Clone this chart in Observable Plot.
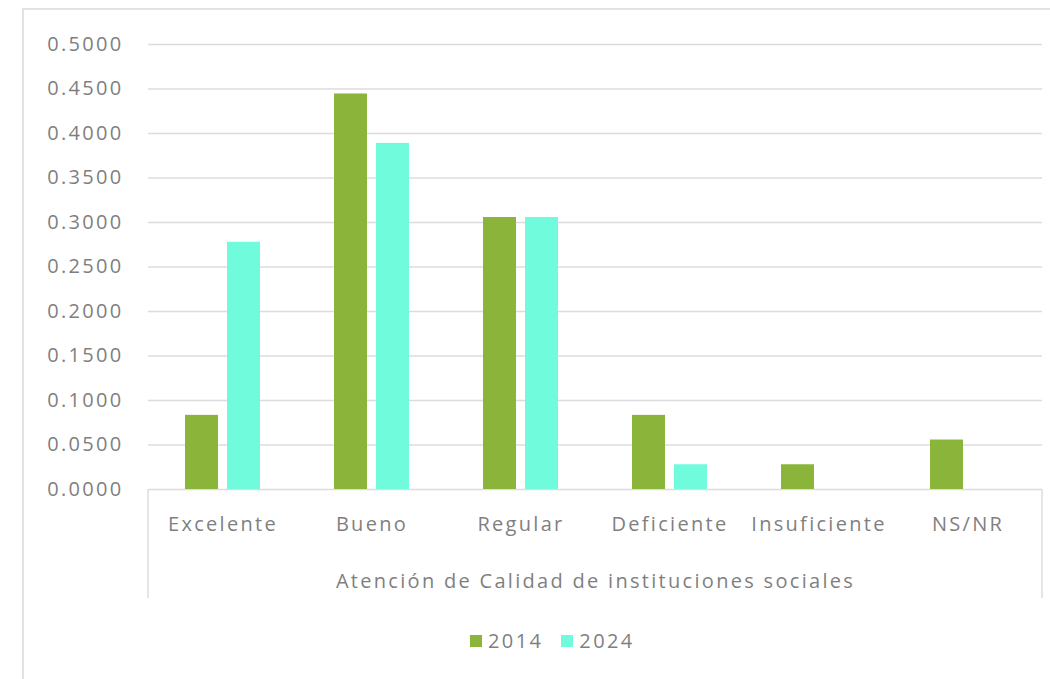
<!DOCTYPE html>
<html>
<head>
<meta charset="utf-8">
<script src="https://cdn.jsdelivr.net/npm/d3@7"></script>
<script src="https://cdn.jsdelivr.net/npm/@observablehq/plot@0.6"></script>
<style>
  html, body { margin: 0; padding: 0; background: #ffffff; }
  #frame { position: absolute; left: 22px; top: 8px; width: 1040px; height: 690px;
           border-top: 2px solid #e2e2e2; border-left: 2px solid #e2e2e2; }
  #chart { position: absolute; left: 0; top: 0; }
  #legend { position: absolute; left: 470px; top: 627px; display: flex; align-items: center;
            font-family: "Open Sans", sans-serif; font-size: 20px; letter-spacing: 2.4px; color: #7f7f7f; }
  .item { display: flex; align-items: center; margin-right: 18px; }
  .sw { width: 12px; height: 12px; margin-right: 6px; }
</style>
</head>
<body>
<div id="frame"></div>
<div id="chart"></div>
<div id="legend"></div>
<script>
// ---- data ----
const categories = ["Excelente", "Bueno", "Regular", "Deficiente", "Insuficiente", "NS/NR"];
const seriesNames = ["2014", "2024"];
const values2014 = [0.0833, 0.4444, 0.3056, 0.0833, 0.0278, 0.0556];
const values2024 = [0.2778, 0.3889, 0.3056, 0.0278, 0.0, 0.0];
const seriesColors = ["#8bb53a", "#70fbdc"];
const yTicks = [0, 0.05, 0.10, 0.15, 0.20, 0.25, 0.30, 0.35, 0.40, 0.45, 0.50];
const xTitle = "Atención de Calidad de instituciones sociales";

const rows = [];
categories.forEach((c, i) => {
  rows.push({category: c, year: seriesNames[0], value: values2014[i]});
  rows.push({category: c, year: seriesNames[1], value: values2024[i]});
});

const W = 1050, H = 610;
const chart = Plot.plot({
  width: W,
  height: H,
  marginLeft: 148,
  marginRight: 8,
  marginTop: 44,
  marginBottom: 121,
  style: {fontFamily: "'Open Sans', sans-serif", fontSize: "20px", color: "#7f7f7f", background: "transparent", letterSpacing: "2.3px"},
  fx: {domain: categories, padding: 0, label: xTitle, labelAnchor: "center", labelOffset: 98, tickSize: 0, tickPadding: 27},
  x: {domain: seriesNames, paddingInner: 0.214, paddingOuter: 0.88, axis: null},
  y: {domain: [0, 0.5], ticks: yTicks, tickFormat: d3.format(".4f"), tickSize: 0, tickPadding: 25, label: null},
  color: {domain: seriesNames, range: seriesColors},
  marks: [
    Plot.ruleY(yTicks, {stroke: "#dcdcdc", strokeWidth: 1.5}),
    Plot.barY(rows, {fx: "category", x: "year", y: "value", fill: "year"}),
    Plot.axisY({ticks: yTicks, tickFormat: d3.format(".4f"), tickSize: 0, tickPadding: 25, label: null, letterSpacing: 4.6})
  ]
});

// box lines under the category axis, at the edges of the fx range
const fxRange = chart.scale("fx").range;
const y0 = chart.scale("y").apply(0);
const svg = d3.select(chart);
[fxRange[0], fxRange[1]].forEach(x => {
  svg.append("line").attr("x1", x).attr("x2", x).attr("y1", y0).attr("y2", y0 + 109)
     .attr("stroke", "#dcdcdc").attr("stroke-width", 1.5);
});
document.getElementById("chart").appendChild(chart);

// legend
const leg = document.getElementById("legend");
seriesNames.forEach((s, i) => {
  const it = document.createElement("div"); it.className = "item";
  const sw = document.createElement("div"); sw.className = "sw"; sw.style.background = seriesColors[i];
  const t = document.createElement("span"); t.textContent = s;
  it.appendChild(sw); it.appendChild(t); leg.appendChild(it);
});
</script>
</body>
</html>
